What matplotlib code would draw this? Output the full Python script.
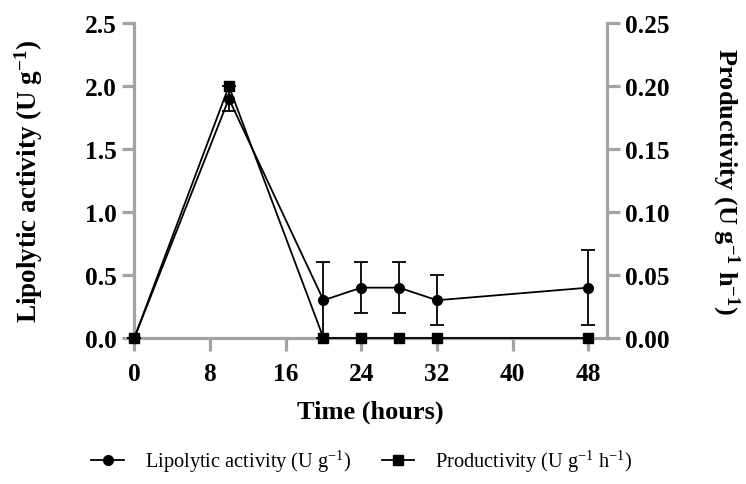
import numpy as np
import matplotlib
matplotlib.use("Agg")
import matplotlib.pyplot as plt
from matplotlib.lines import Line2D

# data
time_h = [0, 10, 20, 24, 28, 32, 48]
lipolytic = [0.0, 1.9, 0.3, 0.4, 0.4, 0.3, 0.4]
lipolytic_err = [0.0, 0.1, 0.3, 0.2, 0.2, 0.2, 0.3]
productivity = [0.0, 0.2, 0.0, 0.0, 0.0, 0.0, 0.0]

x_ticks = [0, 8, 16, 24, 32, 40, 48]
left_ticks = [0.0, 0.5, 1.0, 1.5, 2.0, 2.5]
right_ticks = [0.00, 0.05, 0.10, 0.15, 0.20, 0.25]

plt.rcParams["font.family"] = ["Liberation Serif", "DejaVu Serif"]
plt.rcParams["mathtext.fontset"] = "custom"
plt.rcParams["mathtext.rm"] = "Liberation Serif"
plt.rcParams["mathtext.it"] = "Liberation Serif:italic"
plt.rcParams["mathtext.bf"] = "Liberation Serif:bold"

grey = "#a3a3a3"

fig = plt.figure(figsize=(7.46, 4.85), dpi=100)
ax = fig.add_axes([0.18, 0.301, 0.634, 0.649])
ax2 = ax.twinx()

ax.errorbar(time_h, lipolytic, yerr=lipolytic_err, color="black", marker="o",
            markersize=7, linewidth=1.3, elinewidth=1.3, capsize=5, capthick=1.3,
            zorder=3, clip_on=False)
ax2.plot(time_h, productivity, color="black", marker="s", markersize=7,
         linewidth=1.3, zorder=3, clip_on=False)

ax.set_xlim(0, 50)
ax.set_ylim(0, 2.5)
ax2.set_ylim(0, 0.25)
ax.set_xticks(x_ticks)
ax.set_yticks(left_ticks)
ax2.set_yticks(right_ticks)
ax.set_yticklabels([f"{v:.1f}" for v in left_ticks])
ax2.set_yticklabels([f"{v:.2f}" for v in right_ticks])

for a in (ax, ax2):
    a.spines["top"].set_visible(False)
    for s in ("left", "right", "bottom"):
        a.spines[s].set_color(grey)
        a.spines[s].set_linewidth(2.3)
    a.tick_params(axis="both", colors=grey, width=2.3, length=9, labelsize=18.3,
                  labelcolor="black", pad=3.5)
    a.tick_params(axis="x", pad=8)
    for lbl in a.get_xticklabels() + a.get_yticklabels():
        lbl.set_fontweight("bold")
ax.spines["right"].set_visible(False)
ax2.spines["left"].set_visible(False)
ax2.spines["bottom"].set_visible(False)

ax.set_xlabel("Time (hours)", fontsize=19, fontweight="bold", labelpad=11)
ax.set_ylabel(r"Lipolytic activity (U g$^{\mathbf{-1}}$)", fontsize=19.5,
              fontweight="bold", labelpad=29)
ax2.set_ylabel(r"Productivity (U g$^{\mathbf{-1}}$ h$^{\mathbf{-1}}$)", fontsize=19,
               fontweight="bold", rotation=270, labelpad=52)

handles = [Line2D([], [], color="black", marker="o", markersize=7, linewidth=1.3),
           Line2D([], [], color="black", marker="s", markersize=7, linewidth=1.3)]
fig.legend(handles, [r"Lipolytic activity (U g$^{-1}$)", r"Productivity (U g$^{-1}$ h$^{-1}$)"],
           loc="center", bbox_to_anchor=(0.485, 0.047), ncol=2, frameon=False,
           fontsize=14.7, handlelength=1.6, handletextpad=1.0, columnspacing=1.5)

fig.savefig("out.png", dpi=100)
